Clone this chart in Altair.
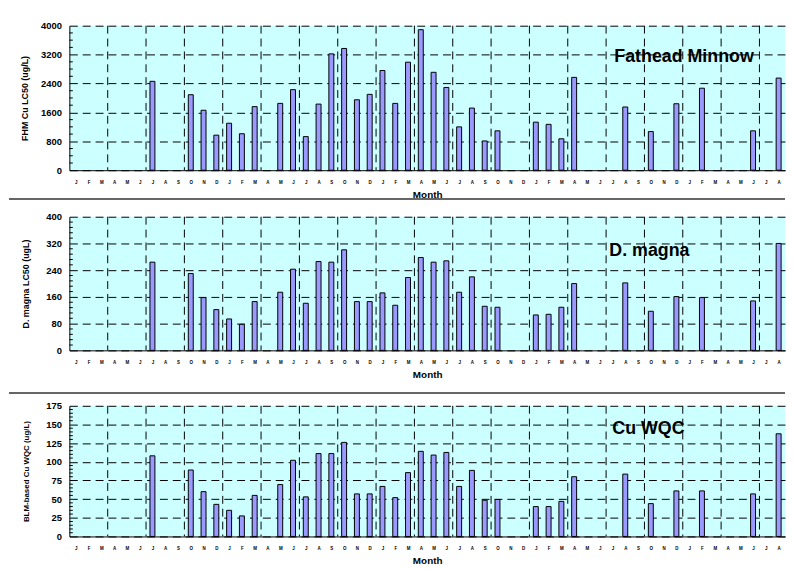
import json
import altair as alt
import pandas as pd

FONT = "Liberation Sans"

# ---- data ----
month_letters = ["J", "F", "M", "A", "M", "J", "J", "A", "S", "O", "N", "D"]
n_months = 56  # Jan (year 1) .. Aug (year 5)
month_index = list(range(n_months))

N = None
fhm_lc50 = [N, N, N, N, N, N, 2460, N, N, 2090, 1660, 970,
            1300, 1010, 1760, N, 1850, 2230, 930, 1830, 3220, 3370, 1950, 2100,
            2760, 1850, 2990, 3890, 2710, 2290, 1200, 1720, 810, 1090, N, N,
            1330, 1270, 870, 2570, N, N, N, 1750, N, 1070, N, 1840,
            N, 2270, N, N, N, 1090, N, 2550]
dmagna_lc50 = [N, N, N, N, N, N, 264, N, N, 230, 158, 122,
               94, 78, 146, N, 174, 243, 141, 266, 264, 301, 146, 146,
               172, 135, 218, 278, 264, 268, 174, 220, 132, 129, N, N,
               106, 108, 129, 200, N, N, N, 202, N, 117, N, 161,
               N, 158, N, N, N, 148, N, 320]
cu_wqc = [N, N, N, N, N, N, 108, N, N, 89, 60, 43,
          35, 27.5, 55, N, 69.5, 102, 53, 111, 111, 126, 57, 57,
          67, 52, 85.5, 114, 109, 112.5, 67, 88.5, 48.5, 49.5, N, N,
          40, 40, 47, 80, N, N, N, 83.5, N, 44, N, 61,
          N, 61, N, N, N, 57, N, 137.5]

fhm_ticks = [0, 800, 1600, 2400, 3200, 4000]
dmagna_ticks = [0, 80, 160, 240, 320, 400]
wqc_ticks = [0, 25, 50, 75, 100, 125, 150, 175]

# quarter boundaries (between M/A, J/J, S/O, D/J)
quarter_bounds = [2.5, 5.5, 8.5, 11.5, 14.5, 17.5, 20.5, 23.5, 26.5, 29.5,
                  32.5, 35.5, 38.5, 41.5, 44.5, 47.5, 50.5, 53.5]

W = 723
label_expr = f"{json.dumps(month_letters)}[datum.value % 12]"


def minor_values(ticks, step):
    out = []
    v = ticks[0]
    while v < ticks[-1]:
        if v not in ticks:
            out.append(v)
        v += step
    return out


def panel(values, ticks, minor_step, ytitle, ytitle_size, ytitle_pad,
          label, lx, ly, H, sep_y=None):
    df = pd.DataFrame({"idx": month_index, "val": values}).dropna()
    xscale = alt.Scale(domain=[-0.5, 55.5], nice=False, zero=False, padding=0)
    yscale = alt.Scale(domain=[ticks[0], ticks[-1]], nice=False, padding=0)
    xaxis = alt.Axis(values=month_index, labelExpr=label_expr,
                     labelFlush=False, labelOverlap=False)
    yaxis = alt.Axis(values=ticks, format="d", titleFontSize=ytitle_size,
                     titlePadding=ytitle_pad)

    vgrid = alt.Chart(pd.DataFrame({"b": quarter_bounds})).mark_rule(
        color="black", strokeWidth=1, strokeDash=[8, 5]
    ).encode(x=alt.X("b:Q", scale=xscale, axis=xaxis, title="Month"))

    bars = alt.Chart(df).mark_bar(
        size=5, fill="#9999ff", stroke="black", strokeWidth=1
    ).encode(
        x=alt.X("idx:Q", scale=xscale, title="Month", axis=xaxis),
        y=alt.Y("val:Q", scale=yscale, title=ytitle, axis=yaxis),
    )

    minors = alt.Chart(pd.DataFrame({"m": minor_values(ticks, minor_step)})).mark_rule(
        color="black", strokeWidth=1
    ).encode(y=alt.Y("m:Q", scale=yscale, title=ytitle, axis=yaxis),
             x=alt.value(0), x2=alt.value(3.5))

    txt = alt.Chart(pd.DataFrame({"t": [label]})).mark_text(
        fontSize=18, fontWeight="bold", font=FONT, color="black",
        align="center", baseline="middle"
    ).encode(text="t:N", x=alt.value(lx), y=alt.value(ly))

    layers = [vgrid, bars, minors, txt]
    if sep_y is not None:
        sep = alt.Chart(pd.DataFrame({"s": [0]})).mark_rule(
            color="#333333", strokeWidth=1.5
        ).encode(x=alt.value(-61), x2=alt.value(W), y=alt.value(sep_y))
        layers.append(sep)
    return alt.layer(*layers).properties(width=W, height=H)


p1 = panel(fhm_lc50, fhm_ticks, 200, "FHM Cu LC50 (ug/L)", 9, 11,
           "Fathead Minnow", 621, 32, 146, sep_y=146 + 29)
p2 = panel(dmagna_lc50, dmagna_ticks, 16, "D. magna LC50 (ugL)", 9, 15,
           "D. magna", 586, 35, 135)
p3 = panel(cu_wqc, wqc_ticks, 5, "BLM-based Cu WQC (ug/L)", 8, 15,
           "Cu WQC", 585, 23, 132, sep_y=-13)

chart = alt.vconcat(p1, p2, p3, spacing=12).properties(
    padding={"left": 0, "top": 10, "right": 0, "bottom": 0}
).configure(
    background="white", font=FONT
).configure_view(
    fill="#ccffff", strokeWidth=0
).configure_axis(
    labelFont=FONT, titleFont=FONT, labelColor="black", titleColor="black",
    labelFontWeight="bold", titleFontWeight="bold",
    domainColor="black", domainWidth=1, ticks=False, tickSize=0,
).configure_axisY(
    labelFontSize=9.5, labelPadding=8, grid=True, gridColor="black",
    gridDash=[8, 5], gridWidth=1, gridOpacity=1,
).configure_axisX(
    labelFontSize=4.5, labelPadding=9, grid=False,
    titleFontSize=10, titlePadding=6,
)

chart.save("out.html", embed_options={"renderer": "svg", "actions": False})
